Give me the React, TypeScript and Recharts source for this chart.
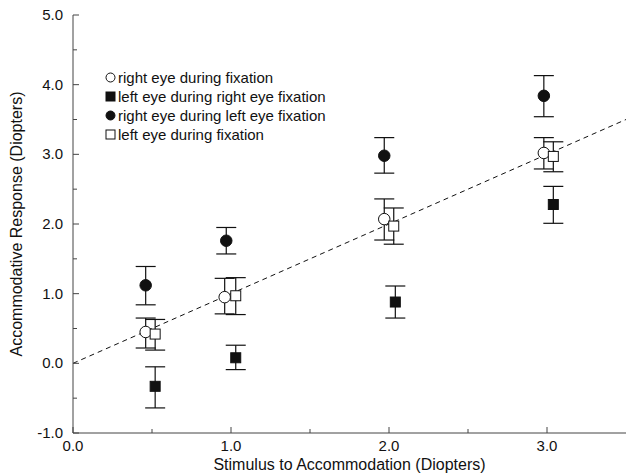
import {
  ErrorBar,
  Legend,
  ReferenceLine,
  Scatter,
  ScatterChart,
  XAxis,
  YAxis,
} from "recharts";

// Open circles: right eye during fixation
const rightEyeFixX = [0.46, 0.96, 1.97, 2.98];
const rightEyeFixY = [0.45, 0.95, 2.07, 3.02];
const rightEyeFixLow = [0.22, 0.71, 1.77, 2.79];
const rightEyeFixHigh = [0.65, 1.22, 2.36, 3.24];

// Filled squares: left eye during right eye fixation
const leftDuringRightX = [0.52, 1.03, 2.04, 3.04];
const leftDuringRightY = [-0.33, 0.08, 0.88, 2.28];
const leftDuringRightLow = [-0.64, -0.09, 0.65, 2.01];
const leftDuringRightHigh = [-0.05, 0.26, 1.11, 2.54];

// Filled circles: right eye during left eye fixation
const rightDuringLeftX = [0.46, 0.97, 1.97, 2.98];
const rightDuringLeftY = [1.12, 1.76, 2.98, 3.84];
const rightDuringLeftLow = [0.84, 1.57, 2.73, 3.54];
const rightDuringLeftHigh = [1.39, 1.95, 3.24, 4.13];

// Open squares: left eye during fixation
const leftEyeFixX = [0.52, 1.03, 2.03, 3.04];
const leftEyeFixY = [0.42, 0.97, 1.97, 2.97];
const leftEyeFixLow = [0.19, 0.7, 1.71, 2.75];
const leftEyeFixHigh = [0.63, 1.23, 2.23, 3.18];

// dashed 1:1 line
const fitX = [0, 3.5];
const fitY = [0, 3.5];

const xTicks = [0, 0.5, 1, 1.5, 2, 2.5, 3];
const yTicks = [-1, -0.5, 0, 0.5, 1, 1.5, 2, 2.5, 3, 3.5, 4, 4.5, 5];

const FONT = "'Liberation Sans', Arial, Helvetica, sans-serif";
const INK = "#111";

type Kind = "openCircle" | "filledSquare" | "filledCircle" | "openSquare";

const legendItems: { kind: Kind; label: string }[] = [
  { kind: "openCircle", label: "right eye during fixation" },
  { kind: "filledSquare", label: "left eye during right eye fixation" },
  { kind: "filledCircle", label: "right eye during left eye fixation" },
  { kind: "openSquare", label: "left eye during fixation" },
];

function build(xs: number[], ys: number[], lo: number[], hi: number[]) {
  return xs.map((x, i) => ({
    x,
    y: ys[i],
    err: [ys[i] - lo[i], hi[i] - ys[i]],
  }));
}

function Marker({ kind, cx, cy, size }: { kind: Kind; cx: number; cy: number; size: number }) {
  const h = size / 2;
  const filled = kind === "filledCircle" || kind === "filledSquare";
  const fill = filled ? INK : "#fff";
  if (kind === "openCircle" || kind === "filledCircle") {
    return <circle cx={cx} cy={cy} r={h} fill={fill} stroke={INK} strokeWidth={1} />;
  }
  return (
    <rect x={cx - h} y={cy - h} width={size} height={size} fill={fill} stroke={INK} strokeWidth={1} />
  );
}

const shapeOf = (kind: Kind) => (props: any) =>
  <Marker kind={kind} cx={props.cx} cy={props.cy} size={kind.includes("Circle") ? 11.5 : 10} />;

function YTick(props: any) {
  const { x, y, payload } = props;
  const v = payload.value as number;
  const major = Number.isInteger(v);
  return (
    <g>
      <line x1={x} x2={x + (major ? 6 : 4)} y1={y} y2={y} stroke="#444" />
      {major && (
        <text x={x - 10} y={y + 5} textAnchor="end" fontSize={15} fontFamily={FONT} fill={INK}>
          {v.toFixed(1)}
        </text>
      )}
    </g>
  );
}

function XTick(props: any) {
  const { x, y, payload } = props;
  const v = payload.value as number;
  const major = Number.isInteger(v);
  return (
    <g>
      <line x1={x} x2={x} y1={y} y2={y - (major ? 6 : 4)} stroke="#444" />
      {major && (
        <text x={x} y={y + 18} textAnchor="middle" fontSize={15} fontFamily={FONT} fill={INK}>
          {v.toFixed(1)}
        </text>
      )}
    </g>
  );
}

function LegendBox() {
  return (
    <div style={{ fontFamily: FONT, fontSize: 15, color: INK }}>
      {legendItems.map((it) => (
        <div key={it.kind} style={{ display: "flex", alignItems: "center", height: 19 }}>
          <svg width={11} height={11} style={{ marginRight: 2 }}>
            <Marker kind={it.kind} cx={5.5} cy={5.5} size={9} />
          </svg>
          <span>{it.label}</span>
        </div>
      ))}
    </div>
  );
}

export default function App() {
  const fitSegment = fitX.map((x, i) => ({ x, y: fitY[i] }));
  return (
    <div style={{ position: "absolute", left: 0, top: 0, background: "#fff" }}>
      <ScatterChart width={626} height={473} margin={{ top: 15, right: 0, bottom: 0, left: 0 }}>
        <XAxis
          type="number"
          dataKey="x"
          domain={[0, 3.5]}
          ticks={xTicks}
          allowDataOverflow
          height={40}
          tickSize={0}
          tickMargin={0}
          tickLine={false}
          axisLine={{ stroke: "#444" }}
          tick={<XTick />}
          label={{
            value: "Stimulus to Accommodation (Diopters)",
            position: "insideBottom",
            offset: 3,
            style: { fontSize: 16, fontFamily: FONT, fill: INK },
          }}
        />
        <YAxis
          type="number"
          dataKey="y"
          domain={[-1, 5]}
          ticks={yTicks}
          allowDataOverflow
          width={73}
          tickSize={0}
          tickMargin={0}
          tickLine={false}
          axisLine={{ stroke: "#444" }}
          tick={<YTick />}
          label={{
            value: "Accommodative Response (Diopters)",
            angle: -90,
            position: "insideLeft",
            offset: 16,
            style: { fontSize: 16, fontFamily: FONT, fill: INK, textAnchor: "middle" },
          }}
        />
        <YAxis
          yAxisId="right"
          orientation="right"
          type="number"
          domain={[-1, 5]}
          ticks={yTicks}
          mirror
          axisLine={false}
          tick={false}
          tickSize={4}
          tickLine={{ stroke: "#888" }}
        />
        <ReferenceLine
          segment={fitSegment}
          stroke={INK}
          strokeWidth={1}
          strokeDasharray="5 4"
          ifOverflow="visible"
        />
        <Scatter
          name="right eye during fixation"
          data={build(rightEyeFixX, rightEyeFixY, rightEyeFixLow, rightEyeFixHigh)}
          shape={shapeOf("openCircle")}
          isAnimationActive={false}
        >
          <ErrorBar dataKey="err" direction="y" width={10} stroke={INK} strokeWidth={1.2} />
        </Scatter>
        <Scatter
          name="left eye during right eye fixation"
          data={build(leftDuringRightX, leftDuringRightY, leftDuringRightLow, leftDuringRightHigh)}
          shape={shapeOf("filledSquare")}
          isAnimationActive={false}
        >
          <ErrorBar dataKey="err" direction="y" width={10} stroke={INK} strokeWidth={1.2} />
        </Scatter>
        <Scatter
          name="right eye during left eye fixation"
          data={build(rightDuringLeftX, rightDuringLeftY, rightDuringLeftLow, rightDuringLeftHigh)}
          shape={shapeOf("filledCircle")}
          isAnimationActive={false}
        >
          <ErrorBar dataKey="err" direction="y" width={10} stroke={INK} strokeWidth={1.2} />
        </Scatter>
        <Scatter
          name="left eye during fixation"
          data={build(leftEyeFixX, leftEyeFixY, leftEyeFixLow, leftEyeFixHigh)}
          shape={shapeOf("openSquare")}
          isAnimationActive={false}
        >
          <ErrorBar dataKey="err" direction="y" width={10} stroke={INK} strokeWidth={1.2} />
        </Scatter>
        <Legend
          layout="vertical"
          align="center"
          verticalAlign="middle"
          wrapperStyle={{ left: 105, top: 68, width: "auto" }}
          content={() => <LegendBox />}
        />
      </ScatterChart>
    </div>
  );
}
